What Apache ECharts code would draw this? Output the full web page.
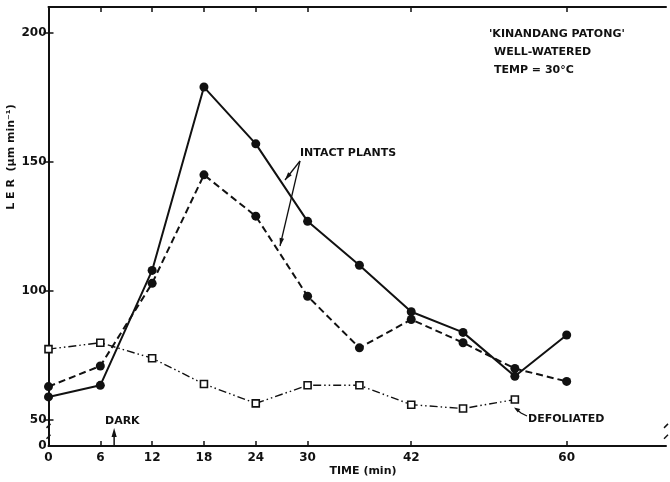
<!DOCTYPE html>
<html>
<head>
<meta charset="utf-8">
<script src="https://cdn.jsdelivr.net/npm/echarts@6/dist/echarts.min.js"></script>
<style>
  html, body { margin: 0; padding: 0; background: #fff; }
  #chart { width: 670px; height: 482px; }
</style>
</head>
<body>
<div id="chart"></div>
<script>
// Leaf elongation rate over time, Kinandang Patong, well-watered, 30 °C
const times = [0, 6, 12, 18, 24, 30, 36, 42, 48, 54, 60];
const intactA = [59, 63.5, 108, 179, 157, 127, 110, 92, 84, 67, 83];     // solid line
const intactB = [63, 71, 103, 145, 129, 98, 78, 89, 80, 70, 65];        // dashed line
const defoliatedTimes = [0, 6, 12, 18, 24, 30, 36, 42, 48, 54];
const defoliated = [77.5, 80, 74, 64, 56.5, 63.5, 63.5, 56, 54.5, 58];
const xTickValues = [0, 6, 12, 18, 24, 30, 42, 60];
const yTickValues = [50, 100, 150, 200];
const yLabelValues = [40, 50, 100, 150, 200]; // 40 is the broken-axis origin, shown as "0"

const FONT = 'DejaVu Sans';
const INK = '#111';

const pairs = (xs, ys) => xs.map((x, i) => [x, ys[i]]);

const chart = echarts.init(document.getElementById('chart'));

const baseAxisLine = { show: true, lineStyle: { color: INK, width: 2 } };

const option = {
  animation: false,
  backgroundColor: '#fff',
  grid: { left: 48.5, right: 4, top: 7, bottom: 36 },
  xAxis: [
    {
      type: 'value', position: 'bottom', min: 0, max: 71.5,
      axisLine: baseAxisLine,
      splitLine: { show: false },
      axisTick: { show: true, inside: true, length: 5, customValues: xTickValues,
                  lineStyle: { color: INK, width: 1.5 } },
      axisLabel: { show: true, customValues: xTickValues, margin: 6,
                   fontFamily: FONT, fontWeight: 'bold', fontSize: 12, color: INK }
    },
    {
      type: 'value', position: 'top', min: 0, max: 71.5,
      axisLine: baseAxisLine,
      splitLine: { show: false },
      axisTick: { show: true, inside: true, length: 5, customValues: xTickValues,
                  lineStyle: { color: INK, width: 1.5 } },
      axisLabel: { show: false }
    }
  ],
  yAxis: [
    {
      type: 'value', position: 'left', min: 40, max: 210,
      axisLine: baseAxisLine,
      splitLine: { show: false },
      axisTick: { show: true, inside: true, length: 5, customValues: yTickValues,
                  lineStyle: { color: INK, width: 1.5 } },
      axisLabel: { show: true, customValues: yLabelValues, margin: 2,
                   formatter: v => (v === 40 ? '0' : String(v)),
                   fontFamily: FONT, fontWeight: 'bold', fontSize: 12, color: INK }
    },
    {
      type: 'value', position: 'right', min: 40, max: 210,
      axisLine: baseAxisLine,
      splitLine: { show: false },
      axisTick: { show: true, inside: true, length: 5, customValues: yTickValues,
                  lineStyle: { color: INK, width: 1.5 } },
      axisLabel: { show: false }
    },
    {
      // short outward stubs on the left axis
      type: 'value', position: 'left', min: 40, max: 210,
      axisLine: { show: false },
      splitLine: { show: false },
      axisTick: { show: true, inside: false, length: 3, customValues: yTickValues,
                  lineStyle: { color: INK, width: 1.5 } },
      axisLabel: { show: false }
    }
  ],
  series: [
    {
      name: 'Intact A', type: 'line', xAxisIndex: 0, yAxisIndex: 0,
      data: pairs(times, intactA),
      symbol: 'circle', symbolSize: 9,
      lineStyle: { color: INK, width: 2, type: 'solid' },
      itemStyle: { color: INK }
    },
    {
      name: 'Intact B', type: 'line', xAxisIndex: 0, yAxisIndex: 0,
      data: pairs(times, intactB),
      symbol: 'circle', symbolSize: 9,
      lineStyle: { color: INK, width: 2, type: [7, 4] },
      itemStyle: { color: INK }
    },
    {
      name: 'Defoliated', type: 'line', xAxisIndex: 0, yAxisIndex: 0,
      data: pairs(defoliatedTimes, defoliated),
      symbol: 'rect', symbolSize: 7,
      lineStyle: { color: INK, width: 1.4, type: [8, 3, 1.5, 3, 1.5, 3] },
      itemStyle: { color: '#fff', borderColor: INK, borderWidth: 1.6 }
    }
  ]
};

chart.setOption(option);

// Annotation helpers
const px = (t, v) => chart.convertToPixel({ xAxisIndex: 0, yAxisIndex: 0 }, [t, v]);

function arrowHead(x1, y1, x2, y2, len, half) {
  const dx = x2 - x1, dy = y2 - y1;
  const d = Math.hypot(dx, dy);
  const ux = dx / d, uy = dy / d;
  const bx = x2 - ux * len, by = y2 - uy * len;
  return {
    type: 'polygon', silent: true,
    shape: { points: [[x2, y2], [bx - uy * half, by + ux * half], [bx + uy * half, by - ux * half]] },
    style: { fill: INK }
  };
}
function stroke(points, w) {
  return { type: 'polyline', silent: true, shape: { points }, style: { stroke: INK, lineWidth: w || 1.5, fill: null } };
}
function label(text, x, y, size, align, rotation) {
  return {
    type: 'text', silent: true, x, y, rotation: rotation || 0,
    style: { text, fill: INK, font: 'bold ' + (size || 11) + 'px "' + FONT + '"',
             textAlign: align || 'left', textVerticalAlign: 'middle' }
  };
}

const gfx = [];

// Axis breaks between the origin and 50 on both vertical axes
const [lx, b1] = px(0, 47.8);
const [, b2] = px(0, 43.6);
const [rx] = px(71.5, 47.8);
[lx, rx].forEach(ax => {
  gfx.push({ type: 'rect', silent: true, shape: { x: ax - 2, y: b1, width: 4, height: b2 - b1 }, style: { fill: '#fff' } });
  gfx.push(stroke([[ax - 2, b1 + 2], [ax + 2, b1 - 2]], 1.5));
  gfx.push(stroke([[ax - 2, b2 + 2], [ax + 2, b2 - 2]], 1.5));
});

// Lights-off marker
const [dx0, dy0] = px(7.6, 40);
const dTipY = dy0 - 18;
gfx.push(stroke([[dx0, dy0], [dx0, dTipY + 6]], 1.5));
gfx.push(arrowHead(dx0, dy0, dx0, dTipY, 9, 2.6));
gfx.push(label('DARK', 105, 421, 11));

// Intact plants call-out
const apex = [300, 161];
const tipA = [285, 180];
const tipB = [280, 246];
gfx.push(stroke([apex, tipA], 1.3));
gfx.push(stroke([apex, tipB], 1.3));
gfx.push(arrowHead(apex[0], apex[1], tipA[0], tipA[1], 8, 2.3));
gfx.push(arrowHead(apex[0], apex[1], tipB[0], tipB[1], 8, 2.3));
gfx.push(label('INTACT PLANTS', 300, 153, 11));

// Defoliated call-out
gfx.push(stroke([[527, 416], [521, 413], [516, 409]], 1.3));
gfx.push(arrowHead(527, 416, 514, 407.5, 6, 2.2));
gfx.push(label('DEFOLIATED', 528, 419, 11));

// Cultivar / conditions block
gfx.push(label("'KINANDANG PATONG'", 489, 34, 11));
gfx.push(label('WELL-WATERED', 494, 52, 11));
gfx.push(label('TEMP = 30°C', 494, 70, 11));

// Axis titles
gfx.push(label('TIME (min)', 363, 471, 11, 'center'));
gfx.push(label('L E R  (μm min⁻¹)', 11, 157, 11, 'center', Math.PI / 2));

chart.setOption({ graphic: gfx });
</script>
</body>
</html>
